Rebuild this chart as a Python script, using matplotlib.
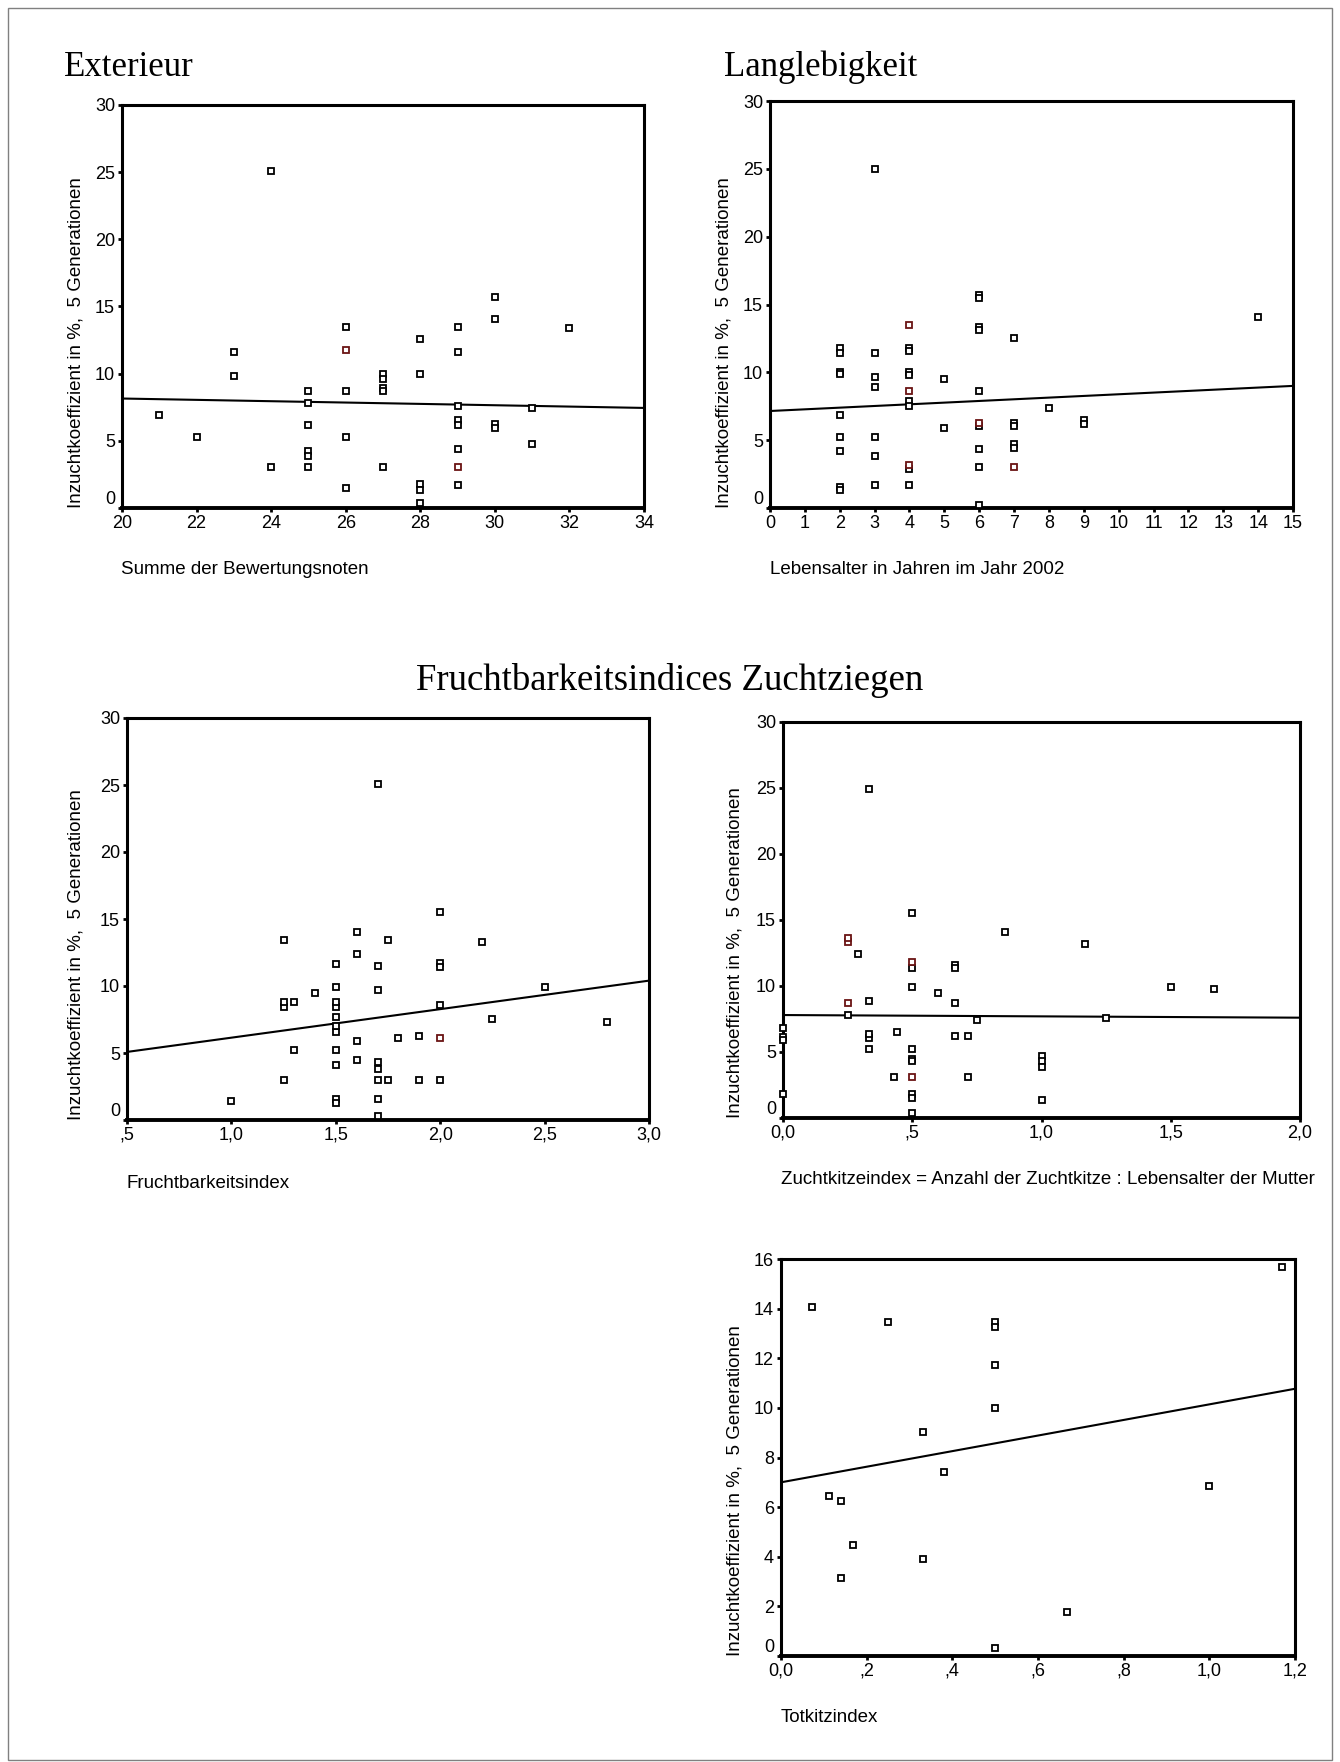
import matplotlib
matplotlib.use("Agg")
from matplotlib import pyplot as plt
from matplotlib.patches import Rectangle

plt.rcParams['font.family'] = ['Liberation Sans', 'DejaVu Sans']

# --- data ---
ylabel = "Inzuchtkoeffizient in %,  5 Generationen"

# Exterieur
ext_x = [21, 22, 23, 23, 24, 24, 25, 25, 25, 25, 25, 25,
         26, 26, 26, 26, 27, 27, 27, 27, 27,
         28, 28, 28, 28, 28, 29, 29, 29, 29, 29, 29, 29,
         30, 30, 30, 30, 31, 31, 32]
ext_y = [6.9, 5.3, 11.6, 9.8, 25.1, 3.05, 8.7, 7.8, 6.2, 4.25, 3.9, 3.05,
         13.5, 8.7, 5.3, 1.5, 10.0, 9.6, 8.9, 8.7, 3.05,
         12.6, 9.95, 1.75, 1.35, 0.4, 13.5, 11.6, 7.6, 6.55, 6.2, 4.4, 1.7,
         15.7, 14.1, 6.25, 5.95, 7.45, 4.75, 13.4]
ext_red_x = [26, 29]
ext_red_y = [11.75, 3.05]
ext_fit_x = [20, 34]
ext_fit_y = [8.15, 7.45]

# Langlebigkeit
lang_x = [2, 2, 2, 2, 2, 2, 2, 2, 2,
          3, 3, 3, 3, 3, 3, 3,
          4, 4, 4, 4, 4, 4, 4, 4,
          5, 5,
          6, 6, 6, 6, 6, 6, 6, 6, 6,
          7, 7, 7, 7, 7,
          8, 9, 9, 14]
lang_y = [11.8, 11.4, 10.05, 9.85, 6.85, 5.2, 4.2, 1.55, 1.3,
          25.0, 11.4, 9.65, 8.95, 5.2, 3.8, 1.7,
          11.8, 11.6, 10.05, 9.8, 7.9, 7.5, 2.9, 1.7,
          9.5, 5.9,
          15.7, 15.5, 13.35, 13.1, 8.6, 6.05, 4.35, 3.0, 0.25,
          12.5, 6.3, 6.05, 4.7, 4.45,
          7.35, 6.5, 6.2, 14.05]
lang_red_x = [4, 4, 4, 6, 7]
lang_red_y = [13.5, 8.6, 3.15, 6.3, 3.0]
lang_fit_x = [0, 15]
lang_fit_y = [7.15, 9.0]

# Fruchtbarkeitsindex
fr_x = [1.0, 1.25, 1.25, 1.25, 1.25, 1.3, 1.3, 1.4,
        1.5, 1.5, 1.5, 1.5, 1.5, 1.5, 1.5, 1.5, 1.5, 1.5, 1.5,
        1.6, 1.6, 1.6, 1.6,
        1.7, 1.7, 1.7, 1.7, 1.7, 1.7, 1.7, 1.7,
        1.75, 1.75, 1.8, 1.9, 1.9,
        2.0, 2.0, 2.0, 2.0, 2.0, 2.2, 2.25, 2.5, 2.8]
fr_y = [1.43, 13.45, 8.45, 8.8, 2.95, 8.8, 5.2, 9.5,
        11.65, 9.9, 8.4, 8.8, 7.7, 6.6, 7.0, 5.2, 4.1, 1.6, 1.25,
        14.0, 12.4, 5.9, 4.5,
        25.05, 11.5, 9.7, 4.3, 3.8, 2.95, 1.6, 0.3,
        13.45, 2.95, 6.1, 6.3, 2.95,
        15.5, 11.7, 11.45, 8.6, 2.95, 13.3, 7.55, 9.9, 7.35]
fr_red_x = [2.0]
fr_red_y = [6.1]
fr_fit_x = [0.5, 3.0]
fr_fit_y = [5.08, 10.4]

# Zuchtkitzeindex
zk_x = [0, 0, 0, 0,
        0.25, 0.29, 0.333, 0.333, 0.333, 0.333, 0.333,
        0.43, 0.44,
        0.5, 0.5, 0.5, 0.5, 0.5, 0.5, 0.5, 0.5, 0.5,
        0.6, 0.667, 0.667, 0.667, 0.667, 0.714, 0.714, 0.75, 0.857,
        1.0, 1.0, 1.0, 1.0, 1.167, 1.25, 1.5, 1.667]
zk_y = [6.85, 6.1, 5.9, 1.8,
        7.8, 12.45, 24.95, 8.85, 6.05, 6.4, 5.25,
        3.07, 6.5,
        15.55, 11.4, 9.95, 5.25, 4.5, 4.3, 1.8, 1.55, 0.38,
        9.5, 11.6, 11.4, 8.7, 6.2, 6.2, 3.07, 7.4, 14.1,
        4.7, 4.3, 3.85, 1.35, 13.2, 7.6, 9.95, 9.75]
zk_red_x = [0.25, 0.25, 0.25, 0.5, 0.5]
zk_red_y = [13.3, 13.6, 8.7, 11.8, 3.07]
zk_fit_x = [0, 2.0]
zk_fit_y = [7.8, 7.6]

# Totkitzindex
tk_x = [0.073, 0.111, 0.139, 0.139, 0.168, 0.249, 0.332, 0.332,
        0.38, 0.5, 0.5, 0.5, 0.5, 0.5, 0.667, 1.0, 1.17]
tk_y = [14.05, 6.46, 6.24, 3.13, 4.49, 13.45, 9.02, 3.9,
        7.43, 13.48, 13.25, 11.72, 9.99, 0.34, 1.79, 6.84, 15.68]
tk_fit_x = [0, 1.2]
tk_fit_y = [7.0, 10.77]

ticks_30 = [0, 5, 10, 15, 20, 25, 30]
ext_xticks = [20, 22, 24, 26, 28, 30, 32, 34]
lang_xticks = list(range(0, 16))
fr_xticks = [0.5, 1.0, 1.5, 2.0, 2.5, 3.0]
fr_xlabels = [",5", "1,0", "1,5", "2,0", "2,5", "3,0"]
zk_xticks = [0, 0.5, 1.0, 1.5, 2.0]
zk_xlabels = ["0,0", ",5", "1,0", "1,5", "2,0"]
tk_xticks = [0, 0.2, 0.4, 0.6, 0.8, 1.0, 1.2]
tk_xlabels = ["0,0", ",2", ",4", ",6", ",8", "1,0", "1,2"]
tk_yticks = [0, 2, 4, 6, 8, 10, 12, 14, 16]

W, H = 1340, 1762
fig = plt.figure(figsize=(W / 100, H / 100), dpi=100)


def add_axes(l, r, t, b):
    return fig.add_axes([l / W, 1 - b / H, (r - l) / W, (b - t) / H])


def scatter_panel(ax, x, y, rx, ry, fx, fy, xlim, ylim, xticks, xlabels, yticks):
    ax.plot(fx, fy, color='black', lw=1.5, zorder=2)
    ax.plot(x, y, ls='none', marker='s', ms=3.8, mew=1.3, mfc='white',
            mec='black', zorder=3, clip_on=False)
    if rx:
        ax.plot(rx, ry, ls='none', marker='s', ms=3.8, mew=1.3, mfc='white',
                mec='#6a1414', zorder=3, clip_on=False)
    ax.set_xlim(xlim)
    ax.set_ylim(ylim)
    ax.set_xticks(xticks)
    ax.set_xticklabels(xlabels)
    ax.set_yticks(yticks)
    ax.set_yticklabels([str(v) for v in yticks])
    ax.get_yticklabels()[0].set_va('bottom')
    for side in ['top', 'right', 'left']:
        ax.spines[side].set_linewidth(2.2)
    ax.spines['bottom'].set_linewidth(2.8)
    ax.tick_params(direction='out', length=3, width=2, labelsize=13, pad=2)


ax1 = add_axes(122, 644, 105, 508)
scatter_panel(ax1, ext_x, ext_y, ext_red_x, ext_red_y, ext_fit_x, ext_fit_y,
              (20, 34), (0, 30), ext_xticks, [str(v) for v in ext_xticks], ticks_30)
ax2 = add_axes(770, 1293, 101, 508)
scatter_panel(ax2, lang_x, lang_y, lang_red_x, lang_red_y, lang_fit_x, lang_fit_y,
              (0, 15), (0, 30), lang_xticks, [str(v) for v in lang_xticks], ticks_30)
ax3 = add_axes(127, 649, 718, 1120)
scatter_panel(ax3, fr_x, fr_y, fr_red_x, fr_red_y, fr_fit_x, fr_fit_y,
              (0.5, 3.0), (0, 30), fr_xticks, fr_xlabels, ticks_30)
ax4 = add_axes(783, 1300, 722, 1118)
scatter_panel(ax4, zk_x, zk_y, zk_red_x, zk_red_y, zk_fit_x, zk_fit_y,
              (0, 2.0), (0, 30), zk_xticks, zk_xlabels, ticks_30)
ax5 = add_axes(781, 1295, 1259, 1656)
scatter_panel(ax5, tk_x, tk_y, [], [], tk_fit_x, tk_fit_y,
              (0, 1.2), (0, 16), tk_xticks, tk_xlabels, tk_yticks)


def ftext(px, py, s, **kw):
    fig.text(px / W, 1 - py / H, s, **kw)


serif = ['Liberation Serif', 'DejaVu Serif']
ftext(64, 67, "Exterieur", family=serif, fontsize=25, va='center', ha='left')
ftext(724, 67, "Langlebigkeit", family=serif, fontsize=25, va='center', ha='left')
ftext(670, 680, "Fruchtbarkeitsindices Zuchtziegen", family=serif, fontsize=26.5,
      va='center', ha='center')

lab = 13.5
ftext(121, 570, "Summe der Bewertungsnoten", fontsize=lab, va='center')
ftext(770, 570, "Lebensalter in Jahren im Jahr 2002", fontsize=lab, va='center')
ftext(127, 1183, "Fruchtbarkeitsindex", fontsize=lab, va='center')
ftext(781, 1179, "Zuchtkitzeindex = Anzahl der Zuchtkitze : Lebensalter der Mutter",
      fontsize=lab, va='center')
ftext(781, 1717, "Totkitzindex", fontsize=lab, va='center')

for px, pb in [(76, 508), (724, 508), (76, 1120), (735, 1118), (735, 1656)]:
    ftext(px, pb, ylabel, fontsize=lab, rotation=90, ha='center', va='bottom')

fig.patches.append(Rectangle((8 / W, 1 - 1760 / H), 1324 / W, 1752 / H,
                             transform=fig.transFigure, fill=False,
                             edgecolor='#808080', lw=1))

fig.savefig("out.png", dpi=100)
